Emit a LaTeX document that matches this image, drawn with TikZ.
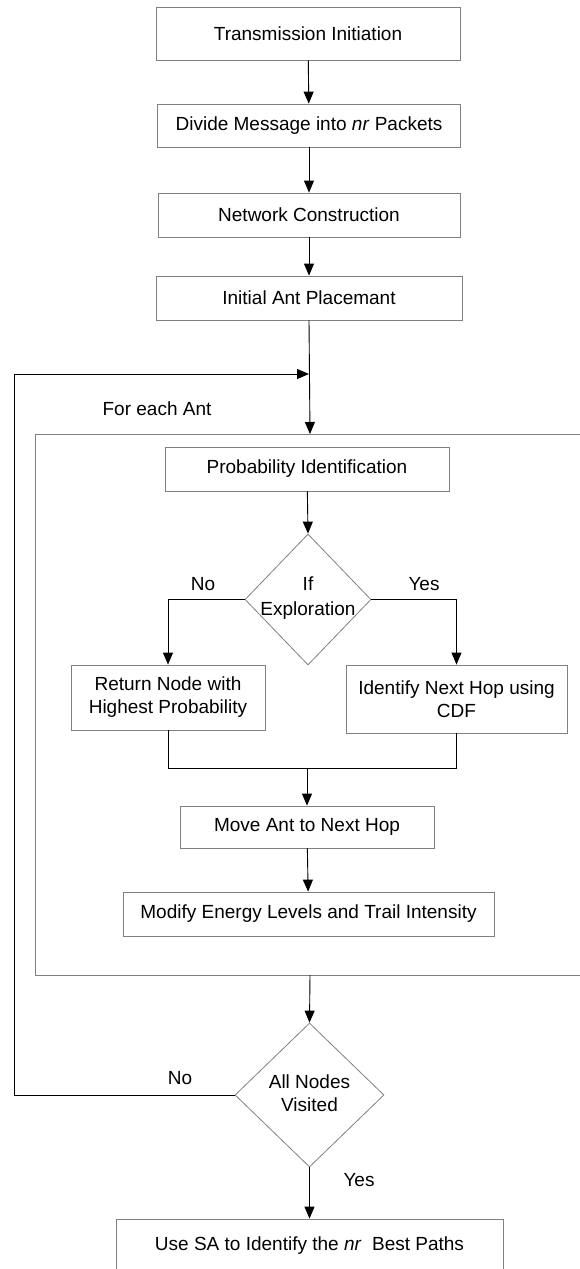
\documentclass[tikz,border=0pt]{standalone}
\usepackage{fontspec}
\setmainfont{Liberation Sans}
\usetikzlibrary{shapes.geometric,arrows.meta}
\begin{document}
\begin{tikzpicture}[x=1pt,y=-1pt,
  font=\fontsize{19}{23}\selectfont,
  boxstyle/.style={draw=black!50, line width=0.8pt, rectangle, inner sep=0pt, align=center},
  decide/.style={draw=black!50, line width=0.8pt, diamond, inner sep=0pt},
  conn/.style={draw=black, line width=0.9pt},
  arr/.style={conn, -{Triangle[length=12pt,width=10pt]}},
  lbl/.style={inner sep=0pt}
]
\useasboundingbox (0,0) rectangle (579,1269);

% top chain
\node[boxstyle, minimum width=304pt, minimum height=53pt] (b1) at (308,33.5) {Transmission Initiation};
\node[boxstyle, minimum width=303pt, minimum height=43pt] (b2) at (309,125.5) {Divide Message into \textit{nr} Packets};
\node[boxstyle, minimum width=302pt, minimum height=44pt] (b3) at (309,215) {Network Construction};
\node[boxstyle, minimum width=306pt, minimum height=44pt] (b4) at (309,298) {Initial Ant Placemant};

% container (open on the right)
\draw[draw=black!50, line width=0.8pt] (590,434) -- (35,434) -- (35,975) -- (590,975);
\coordinate (ctop) at (310,434);
\coordinate (cbot) at (310,975);
\coordinate (loopin) at (309,374);
\node[lbl] (foreach) at (157,409) {For each Ant};

% inner flow
\node[boxstyle, minimum width=284pt, minimum height=44pt] (prob) at (307,469) {Probability Identification};
\node[decide, minimum width=126pt, minimum height=131pt] (d1) at (308,599.5) {};
\node[lbl, align=center] (d1t) at (308,598) {If\\[2pt]Exploration};
\node[boxstyle, minimum width=194pt, minimum height=65pt] (ret) at (168,697.5) {Return Node with\\Highest Probability};
\node[boxstyle, minimum width=221pt, minimum height=68pt] (idn) at (456.5,699) {Identify Next Hop using\\CDF};
\node[boxstyle, minimum width=254pt, minimum height=42pt] (move) at (307,827) {Move Ant to Next Hop};
\node[boxstyle, minimum width=371pt, minimum height=44pt] (modify) at (308.5,914) {Modify Energy Levels and Trail Intensity};

% bottom
\node[decide, minimum width=149pt, minimum height=144pt] (d2) at (309.5,1095) {};
\node[lbl, align=center] (d2t) at (309.5,1093.5) {All Nodes\\Visited};
\node[boxstyle, minimum width=387pt, minimum height=54pt] (final) at (309.5,1246) {Use SA to Identify the \textit{nr}\ \ Best Paths};

% labels
\node[lbl] (no1) at (203,584) {No};
\node[lbl] (yes1) at (424,584) {Yes};
\node[lbl] (no2) at (180,1078) {No};
\node[lbl] (yes2) at (359,1180) {Yes};

% connectors
\draw[arr] (b1) -- (b2);
\draw[arr] (b2) -- (b3);
\draw[arr] (b3) -- (b4);
\draw[arr] (b4.south) -- (ctop);
\draw[arr] (prob) -- (d1.north);
\draw[arr] (d1.west) -| (ret.north);
\draw[arr] (d1.east) -| (idn.north);
\coordinate (mergeL) at (168,768);
\coordinate (mergeR) at (456.5,768);
\coordinate (mergeC) at (307,768);
\draw[conn] (ret.south) -- (mergeL) -- (mergeR) -- (idn.south);
\draw[arr] (mergeC) -- (move.north);
\draw[arr] (move) -- (modify);
\draw[arr] (cbot) -- (d2.north);
\draw[arr] (d2.south) -- (final.north);
\coordinate (loopBL) at (14,1095);
\coordinate (loopTL) at (14,374);
\draw[arr] (d2.west) -- (loopBL) -- (loopTL) -- (loopin);
\end{tikzpicture}
\end{document}
